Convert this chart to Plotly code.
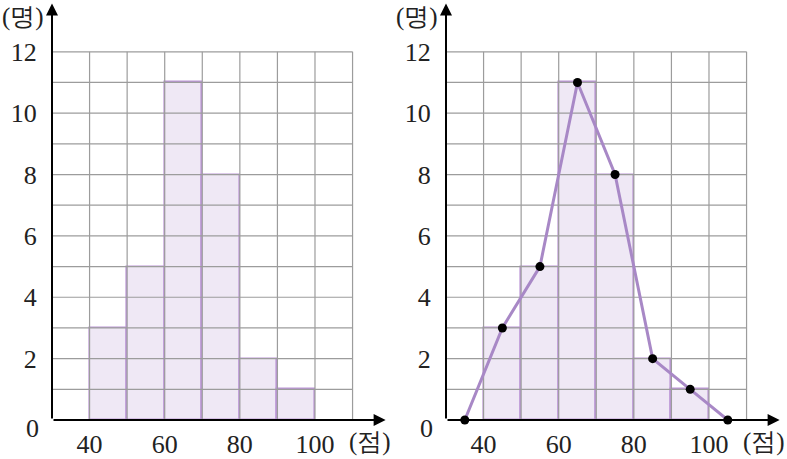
import plotly.graph_objects as go

# data
class_mid = [45, 55, 65, 75, 85, 95]
counts = [3, 5, 11, 8, 2, 1]
poly_x = [35, 45, 55, 65, 75, 85, 95, 105]
poly_y = [0, 3, 5, 11, 8, 2, 1, 0]
x_ticks = [40, 60, 80, 100]
y_ticks = [2, 4, 6, 8, 10, 12]
grid_x = [40, 50, 60, 70, 80, 90, 100, 110]
grid_y = list(range(1, 13))
x_unit = "(점)"
y_unit = "(명)"

W, H = 787, 459
FONT = "Liberation Serif"
FS = 26
XMAX = 118.9
YMAX = 13.59

fig = go.Figure()

doms = {"": [52 / W, 386 / W], "2": [446 / W, 780 / W]}
for suf, dom in doms.items():
    xa = "x" + suf
    ya = "y" + suf
    # grid
    gx, gy = [], []
    for v in grid_x:
        gx += [v, v, None]
        gy += [0, 12, None]
    for v in grid_y:
        gx += [30, 110, None]
        gy += [v, v, None]
    fig.add_trace(go.Scatter(x=gx, y=gy, mode="lines", line=dict(color="#9c9c9c", width=1.2),
                             hoverinfo="skip", showlegend=False, xaxis=xa, yaxis=ya))
    fig.add_trace(go.Bar(x=class_mid, y=counts, width=10,
                         marker=dict(color="rgba(175,140,205,0.2)", line=dict(color="#bb96d6", width=1.6)),
                         showlegend=False, xaxis=xa, yaxis=ya))
    if suf == "2":
        fig.add_trace(go.Scatter(x=poly_x, y=poly_y, mode="lines+markers",
                                 line=dict(color="#a888c6", width=3),
                                 marker=dict(color="black", size=9),
                                 showlegend=False, xaxis=xa, yaxis=ya, cliponaxis=False))
    axkey = "xaxis" + suf
    aykey = "yaxis" + suf
    fig.layout[axkey] = dict(domain=dom, range=[30, XMAX], showgrid=False, zeroline=False,
                             showline=False, tickvals=x_ticks, ticks="outside", ticklen=1,
                             tickcolor="rgba(0,0,0,0)", anchor=ya, automargin=False,
                             tickfont=dict(family=FONT, size=FS, color="#222"))
    fig.layout[aykey] = dict(domain=[39 / H, 1 - 3 / H], range=[0, YMAX], showgrid=False,
                             zeroline=False, showline=False, tickvals=y_ticks, ticks="outside",
                             ticklen=9, tickcolor="rgba(0,0,0,0)", anchor=xa, automargin=False,
                             tickfont=dict(family=FONT, size=FS, color="#222"))
    # axis arrows
    fig.add_annotation(xref=xa, yref=ya, axref=xa, ayref=ya, x=XMAX - 0.1, y=0, ax=30, ay=0,
                       showarrow=True, arrowhead=2, arrowsize=1.2, arrowwidth=2, arrowcolor="black", text="")
    fig.add_annotation(xref=xa, yref=ya, axref=xa, ayref=ya, x=30, y=YMAX - 0.02, ax=30, ay=0,
                       showarrow=True, arrowhead=2, arrowsize=1.2, arrowwidth=2, arrowcolor="black", text="")
    # origin label
    fig.add_annotation(xref=xa, yref=ya, x=30, y=0, text="0", showarrow=False, xanchor="center",
                       yanchor="middle", xshift=-20, yshift=-8,
                       font=dict(family=FONT, size=FS, color="#222"))
    # units
    fig.add_annotation(xref=xa, yref=ya, x=114.7, y=0, text=x_unit, showarrow=False,
                       xanchor="center", yanchor="middle", yshift=-22,
                       font=dict(family=FONT, size=FS - 1, color="#222"))
    fig.add_annotation(xref=xa, yref=ya, x=30, y=YMAX, text=y_unit, showarrow=False,
                       xanchor="right", yanchor="middle", xshift=-6, yshift=-14,
                       font=dict(family=FONT, size=FS - 1, color="#222"))

fig.update_layout(width=W, height=H, margin=dict(l=0, r=0, t=0, b=0, autoexpand=False),
                  plot_bgcolor="white", paper_bgcolor="white", bargap=0)
fig.write_html("out.html", config={"displayModeBar": False},
               post_script="document.body.style.margin='0';")
